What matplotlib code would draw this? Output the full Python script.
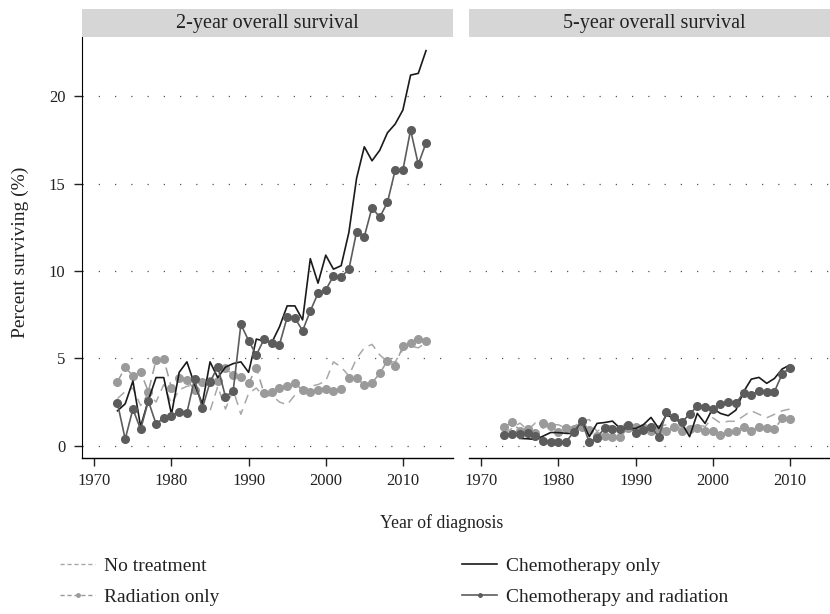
import numpy as np
import matplotlib
matplotlib.use("Agg")
import matplotlib.pyplot as plt
from matplotlib.lines import Line2D

plt.rcParams["font.family"] = ["Liberation Serif", "DejaVu Serif"]

# --- data (percent surviving) -------------------------------------------
years_2y = np.arange(1973, 2014)
years_5y = np.arange(1973, 2011)
years_5y_chemo = np.arange(1975, 2011)

no_treat_2y = [2.7, 3.1, 3.3, 2.3, 3.0, 2.5, 3.5, 2.4, 3.2, 3.4,
               3.5, 2.4, 2.0, 3.4, 2.1, 3.2, 1.8, 3.0, 3.3, 2.8,
               2.9, 2.5, 2.35, 2.9, 3.1, 3.4, 3.5, 3.7, 4.8, 4.5,
               4.0, 5.0, 5.6, 5.8, 5.2, 4.8, 4.8, 5.5, 5.7, 5.6, 5.9]
radiation_2y = [3.66, 4.49, 4.0, 4.23, 3.09, 4.9, 4.95, 3.32, 3.85, 3.76,
                3.2, 3.66, 3.7, 3.7, 4.43, 4.04, 3.95, 3.57, 4.46, 3.0,
                3.09, 3.28, 3.42, 3.57, 3.19, 3.09, 3.19, 3.24, 3.15, 3.24,
                3.85, 3.89, 3.47, 3.6, 4.14, 4.86, 4.56, 5.72, 5.85, 6.09, 5.97]
chemo_2y = [2.0, 2.4, 3.7, 1.1, 2.6, 3.9, 3.9, 1.8, 4.2, 4.8,
            3.5, 2.4, 4.8, 3.9, 4.5, 4.7, 4.8, 4.2, 6.1, 6.0,
            5.9, 6.8, 8.0, 8.0, 7.2, 10.7, 9.3, 10.9, 10.1, 10.3,
            12.2, 15.3, 17.1, 16.3, 16.9, 17.9, 18.4, 19.2, 21.2, 21.3, 22.6]
chemorad_2y = [2.43, 0.38, 2.10, 0.94, 2.57, 1.24, 1.60, 1.70, 1.95, 1.89,
               3.82, 2.14, 3.64, 4.52, 2.80, 3.13, 6.95, 6.01, 5.19, 6.09,
               5.86, 5.78, 7.35, 7.31, 6.58, 7.71, 8.72, 8.91, 9.71, 9.65,
               10.09, 12.24, 11.96, 13.62, 13.07, 13.92, 15.76, 15.76, 18.06, 16.10, 17.32]

no_treat_5y = [0.7, 1.0, 1.3, 0.9, 1.3, 1.0, 1.2, 1.2, 1.0, 1.1,
               1.4, 1.5, 0.8, 1.2, 1.1, 1.0, 1.4, 1.1, 1.3, 1.0,
               1.1, 1.2, 1.0, 1.1, 1.0, 1.2, 1.1, 1.6, 1.3, 1.4,
               1.4, 1.7, 2.0, 1.8, 1.6, 1.8, 2.0, 2.1]
radiation_5y = [1.09, 1.36, 0.86, 0.95, 0.74, 1.30, 1.13, 0.77, 0.99, 0.94,
                1.05, 0.9, 0.55, 0.53, 0.52, 0.52, 0.99, 1.1, 1.0, 0.86,
                0.95, 0.84, 1.09, 0.86, 0.97, 1.0, 0.86, 0.86, 0.61, 0.8,
                0.86, 1.09, 0.86, 1.09, 1.0, 0.95, 1.57, 1.53]
chemo_5y = [0.42, 0.4, 0.36, 0.55, 0.76, 0.75, 0.71, 0.7, 1.47, 0.52,
            1.28, 1.33, 1.41, 0.99, 0.99, 0.99, 1.2, 1.62, 0.99, 1.76,
            1.57, 1.28, 0.52, 1.85, 1.28, 2.14, 1.85, 1.72, 2.04, 3.09,
            3.81, 3.91, 3.57, 3.85, 4.39, 4.62]
chemorad_5y = [0.61, 0.65, 0.68, 0.71, 0.55, 0.29, 0.23, 0.23, 0.23, 0.8,
               1.43, 0.19, 0.46, 1.03, 0.94, 0.96, 1.2, 0.74, 0.91, 1.06,
               0.52, 1.93, 1.66, 1.35, 1.81, 2.27, 2.23, 2.1, 2.39, 2.52,
               2.43, 3.03, 2.9, 3.15, 3.1, 3.1, 4.1, 4.46]

panel_titles = ["2-year overall survival", "5-year overall survival"]
x_ticks = [1970, 1980, 1990, 2000, 2010]
y_ticks = [0, 5, 10, 15, 20]

LIGHT = "#9a9a9a"
DARK = "#5c5c5c"

fig = plt.figure(figsize=(8.3, 6.14), dpi=100)
W, H = 830, 614


def frac(x0, y0, w, h):
    return [x0 / W, 1 - (y0 + h) / H, w / W, h / H]


ax1 = fig.add_axes(frac(82, 37, 371, 421))
ax2 = fig.add_axes(frac(469, 37, 371, 421))

panels = [
    (ax1, years_2y, no_treat_2y, radiation_2y, years_2y, chemo_2y, chemorad_2y),
    (ax2, years_5y, no_treat_5y, radiation_5y, years_5y_chemo, chemo_5y, chemorad_5y),
]

for i, (ax, yrs, nt, rad, yrs_c, ch, cr) in enumerate(panels):
    for yv in y_ticks:
        ax.axhline(yv, color="#555555", lw=0.9, ls=(0, (1, 12)), zorder=0)
    ax.plot(yrs, nt, color="#a8a8a8", lw=1.1, ls=(0, (6, 4)), zorder=2)
    ax.plot(yrs, rad, color=LIGHT, lw=1.1, ls=(0, (6, 4)), marker="o",
            ms=5.5, mec=LIGHT, mfc=LIGHT, zorder=3)
    ax.plot(yrs_c, ch, color="#1a1a1a", lw=1.2, zorder=4)
    ax.plot(yrs, cr, color=DARK, lw=1.2, marker="o", ms=5.5,
            mec=DARK, mfc=DARK, zorder=5)

    ax.set_xlim(1968.4, 2016.5)
    ax.set_ylim(-0.7, 23.38)
    ax.set_xticks(x_ticks)
    ax.set_yticks(y_ticks)
    for s in ["top", "right"]:
        ax.spines[s].set_visible(False)
    ax.spines["bottom"].set_linewidth(1.0)
    ax.tick_params(axis="x", direction="out", length=6, width=1.0,
                   labelsize=12, pad=5, colors="#222222")
    ax.tick_params(axis="y", direction="out", length=6, width=1.0,
                   labelsize=12, pad=6, colors="#222222")
    if i == 1:
        ax.spines["left"].set_visible(False)
        ax.tick_params(axis="y", left=False, labelleft=False)

    # facet strip
    sx = 82 if i == 0 else 469
    strip = fig.add_axes(frac(sx, 9, 371, 28))
    strip.set_facecolor("#d6d6d6")
    strip.set_xticks([])
    strip.set_yticks([])
    for s in strip.spines.values():
        s.set_visible(False)
    strip.text(0.5, 0.48, panel_titles[i], ha="center", va="center",
               fontsize=14.5, color="#222222", transform=strip.transAxes)

fig.text(20 / W, 1 - 252 / H, "Percent surviving (%)", rotation=90,
         ha="center", va="center", fontsize=14, color="#222222")
fig.text(442 / W, 1 - 523 / H, "Year of diagnosis", ha="center",
         va="center", fontsize=12.8, color="#222222")

h_nt = Line2D([], [], color="#a8a8a8", lw=1.0, ls=(0, (3, 2)))
h_rad = Line2D([], [], color=LIGHT, lw=1.0, ls=(0, (3, 2)), marker="o",
               ms=2.5, mfc=LIGHT, mec=LIGHT)
h_ch = Line2D([], [], color="#1a1a1a", lw=1.2)
h_cr = Line2D([], [], color=DARK, lw=1.2, marker="o", ms=2.5,
              mfc=DARK, mec=DARK)

leg_kw = dict(frameon=False, fontsize=14, handlelength=1.8,
              handletextpad=0.45, labelspacing=0.7, borderaxespad=0,
              borderpad=0, labelcolor="#222222")
fig.legend([h_nt, h_rad], ["No treatment", "Radiation only"],
           loc="upper left", bbox_to_anchor=(60 / W, 1 - 557 / H), **leg_kw)
fig.legend([h_ch, h_cr], ["Chemotherapy only", "Chemotherapy and radiation"],
           loc="upper left", bbox_to_anchor=(462 / W, 1 - 557 / H), **leg_kw)

fig.savefig("out.png", dpi=100)
